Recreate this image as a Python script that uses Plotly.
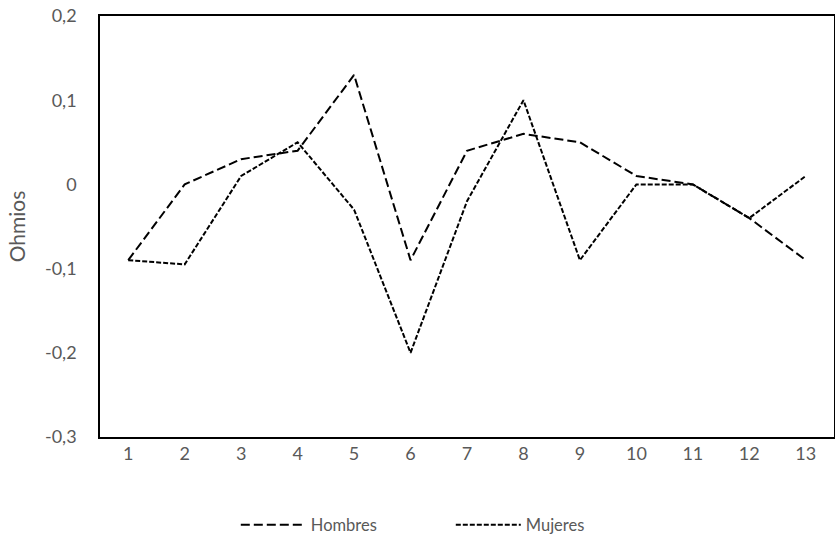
import plotly.graph_objects as go

categorias = [str(i) for i in range(1, 14)]
hombres = [-0.09, 0.0, 0.03, 0.04, 0.13, -0.09, 0.04, 0.06, 0.05, 0.01, 0.0, -0.04, -0.09]
mujeres = [-0.09, -0.095, 0.01, 0.05, -0.03, -0.2, -0.02, 0.1, -0.09, 0.0, 0.0, -0.04, 0.01]
y_ticks = [0.2, 0.1, 0, -0.1, -0.2, -0.3]
y_tick_labels = ["0,2", "0,1", "0", "-0,1", "-0,2", "-0,3"]

fuente = "Lato, Open Sans, sans-serif"
gris = "#595959"

fig = go.Figure()
fig.add_trace(go.Scatter(
    x=categorias, y=hombres, name="Hombres", mode="lines",
    line=dict(color="black", width=2, dash="9px,4px"),
))
fig.add_trace(go.Scatter(
    x=categorias, y=mujeres, name="Mujeres", mode="lines",
    line=dict(color="black", width=2, dash="5px,2px"),
))

fig.update_layout(
    width=835, height=542,
    margin=dict(l=100, r=1, t=16, b=105, autoexpand=False),
    paper_bgcolor="white", plot_bgcolor="white",
    font=dict(family=fuente, size=17, color=gris),
    showlegend=True,
    legend=dict(
        orientation="h", x=0.185, xanchor="left", y=-0.209, yanchor="middle",
        font=dict(family=fuente, size=16.5, color=gris),
        itemwidth=65, entrywidth=135, tracegroupgap=0,
    ),
    xaxis=dict(
        type="category", range=[-0.5, 12.5],
        showgrid=False, zeroline=False,
        showline=True, linecolor="black", linewidth=1.5, mirror=True,
        ticks="", tickfont=dict(size=18, color=gris),
    ),
    yaxis=dict(
        range=[-0.3, 0.2], tickvals=y_ticks, ticktext=y_tick_labels,
        showgrid=False, zeroline=False,
        showline=True, linecolor="black", linewidth=1.5, mirror=True,
        ticks="", ticklabelstandoff=18, tickfont=dict(size=18, color=gris),
        title=dict(text="Ohmios", font=dict(size=21, color=gris), standoff=14),
    ),
)

fig.write_html("out.html")
